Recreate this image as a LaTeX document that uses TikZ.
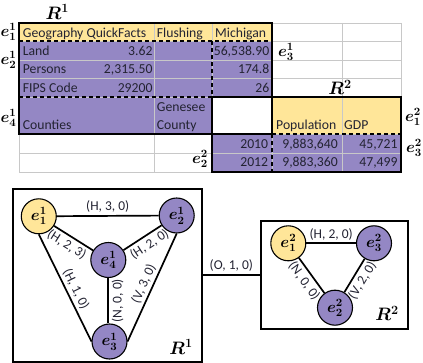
\RequirePackage{fix-cm}
\documentclass[tikz,border=0pt]{standalone}
\usepackage[no-math]{fontspec}
\setmainfont{Carlito}
\usepackage{amsmath,bm}
\definecolor{pur}{RGB}{148,135,196}
\definecolor{yel}{RGB}{255,230,153}
\definecolor{gridc}{RGB}{200,200,200}
\definecolor{txt}{RGB}{35,35,50}
\begin{document}
\begin{tikzpicture}[x=1pt,y=-1pt,
 cell/.style={font=\fontsize{13.7}{15}\selectfont, inner sep=0pt, text=txt},
 lt/.style={cell, anchor=base west},
 rt/.style={cell, anchor=base east},
 elab/.style={font=\fontsize{16}{18}\selectfont, inner sep=0pt},
 rlab/.style={font=\fontsize{18}{20}\selectfont, inner sep=0pt},
 thickbox/.style={line width=2.2pt},
 dsh/.style={line width=1.4pt, dash pattern=on 4pt off 3pt},
 gline/.style={draw=gridc, line width=0.6pt},
 gnode/.style={circle, draw, line width=1.1pt, minimum size=35pt, inner sep=0pt, font=\fontsize{16}{18}\selectfont},
 gedge/.style={line width=1.7pt},
 glab/.style={font=\fontsize{13.5}{15}\selectfont, inner sep=2.5pt, sloped, text=txt}
]
\useasboundingbox (0,0) rectangle (423,363);
% ---------- spreadsheet ----------
\fill[yel] (19,23) rectangle (272,41);
\fill[pur] (19,41) rectangle (272,97);
\fill[pur] (19,97) rectangle (212,134);
\fill[yel] (272,97) rectangle (401,134);
\fill[pur] (212,134) rectangle (401,172);
\foreach \x in {19,154,212,272,342,401} \draw[gline] (\x,23) -- (\x,172);
\foreach \y in {23,41,60,78.5,97,134,153,172} \draw[gline] (19,\y) -- (401,\y);
\draw[dsh] (19,41) -- (272,41);
\draw[dsh] (19,97) -- (212,97);
\draw[dsh] (212,41) -- (212,97);
\draw[dsh] (272,134) -- (401,134);
\draw[dsh] (272,134) -- (272,172);
\draw[thickbox] (19,23) rectangle (272,134);
\draw[thickbox] (212,97) rectangle (401,172);
% texts
\node[lt] (c11) at (22.7,37.3) {Geography QuickFacts};
\node[lt] (c12) at (156.7,37.3) {Flushing};
\node[lt] (c13) at (215,37.3) {Michigan};
\node[lt] (c21) at (22.7,55.7) {Land};
\node[rt] (c22) at (152.7,55.7) {3.62};
\node[rt] (c23) at (269.5,55.7) {56,538.90};
\node[lt] (c31) at (22.7,74) {Persons};
\node[rt] (c32) at (152.7,74) {2,315.50};
\node[rt] (c33) at (269.5,74) {174.8};
\node[lt] (c41) at (22.7,92.5) {FIPS Code};
\node[rt] (c42) at (152.7,92.5) {29200};
\node[rt] (c43) at (269.5,92.5) {26};
\node[lt] (c51) at (22.7,129.7) {Counties};
\node[lt] (c52a) at (156.7,111.3) {Genesee};
\node[lt] (c52b) at (156.7,129.7) {County};
\node[lt] (c54) at (276,129.7) {Population};
\node[lt] (c55) at (344,129.7) {GDP};
\node[rt] (c63) at (268.3,148.3) {2010};
\node[rt] (c64) at (338,148.3) {9,883,640};
\node[rt] (c65) at (397.7,148.3) {45,721};
\node[rt] (c73) at (268.3,166.7) {2012};
\node[rt] (c74) at (338,166.7) {9,883,360};
\node[rt] (c75) at (397.7,166.7) {47,499};
% labels
\node[rlab] (R1t) at (57.3,11.7) {$\bm{R^1}$};
\node[elab] (l11) at (8.5,32) {$\bm{e_1^1}$};
\node[elab] (l21) at (8.5,60) {$\bm{e_2^1}$};
\node[elab] (l41) at (8.5,118.3) {$\bm{e_4^1}$};
\node[elab] (l31) at (286,52) {$\bm{e_3^1}$};
\node[rlab] (R2t) at (340,87.3) {$\bm{R^2}$};
\node[elab] (l12) at (413,116.7) {$\bm{e_1^2}$};
\node[elab] (l32) at (414,148.3) {$\bm{e_3^2}$};
\node[elab] (l22) at (200,159.3) {$\bm{e_2^2}$};
% ---------- graph R1 ----------
\draw[line width=1.8pt] (12.7,189) rectangle (201.7,361.7);
\coordinate (g1r) at (201.7,275);
\node[gnode, fill=yel] (a1) at (38.8,216.3) {$\bm{e_1^1}$};
\node[gnode, fill=pur] (a2) at (176.7,215.5) {$\bm{e_2^1}$};
\node[gnode, fill=pur] (a4) at (108.3,260) {$\bm{e_4^1}$};
\node[gnode, fill=pur] (a3) at (109.5,341.5) {$\bm{e_3^1}$};
\draw[gedge] (a1) -- node[glab, above] {(H, 3, 0)} (a2);
\draw[gedge] (a1) -- node[glab, below, pos=0.45] {(H, 2, 3)} (a4);
\draw[gedge] (a4) -- node[glab, below, pos=0.55] {(H, 2, 0)} (a2);
\draw[gedge] (a1.south) -- node[glab, above, pos=0.55] {(H, 1, 0)} (a3.west);
\draw[gedge] (a3.north -| a4.south) -- node[glab, below] {(N, 0, 0)} (a4.south);
\draw[gedge] (a3.east) -- node[glab, above, pos=0.5] {(V, 3, 0)} (a2.south);
\node[rlab] (R1g) at (181,346.7) {$\bm{R^1}$};
% ---------- graph R2 ----------
\draw[line width=1.8pt] (261,221) rectangle (408.3,329.3);
\coordinate (g2l) at (261,275);
\draw[gedge] (g1r) -- node[glab, above] {(O, 1, 0)} (g2l);
\node[gnode, fill=yel] (b1) at (288.3,243.3) {$\bm{e_1^2}$};
\node[gnode, fill=pur] (b3) at (374,243.3) {$\bm{e_3^2}$};
\node[gnode, fill=pur] (b2) at (335,307.7) {$\bm{e_2^2}$};
\draw[gedge] (b1) -- node[glab, above] {(H, 2, 0)} (b3);
\draw[gedge] (b1) -- node[glab, below] {(N, 0, 0)} (b2);
\draw[gedge] (b2) -- node[glab, below] {(V, 2, 0)} (b3);
\node[rlab] (R2g) at (387,313.3) {$\bm{R^2}$};
\end{tikzpicture}
\end{document}
